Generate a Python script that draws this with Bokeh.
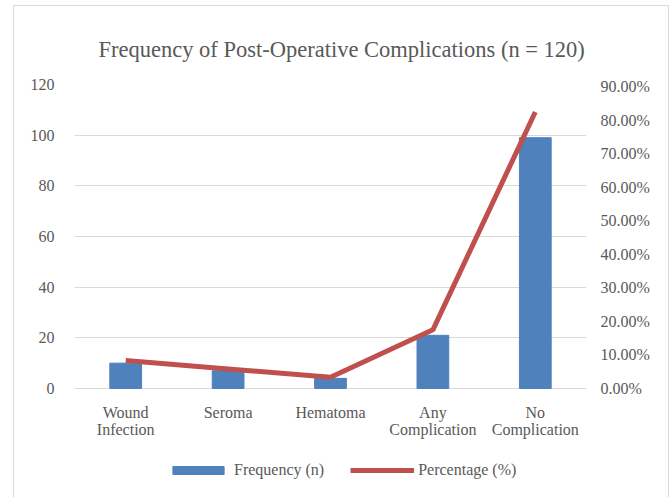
from bokeh.plotting import figure
from bokeh.models import (LinearAxis, Range1d, NumeralTickFormatter, Legend,
                          LegendItem, FixedTicker, Title)
from bokeh.core.properties import value
from bokeh.embed import file_html
from bokeh.resources import INLINE

categories = ["Wound\nInfection", "Seroma", "Hematoma", "Any\nComplication", "No\nComplication"]
frequency = [10, 7, 4, 21, 99]
percentage = [0.0833, 0.0583, 0.0333, 0.175, 0.825]
freq_ticks = [0, 20, 40, 60, 80, 100, 120]
pct_ticks = [0.0, 0.1, 0.2, 0.3, 0.4, 0.5, 0.6, 0.7, 0.8, 0.9]

FONT = "Liberation Serif"
GREY = "#595959"

xpos = list(range(len(categories)))

# frame spans 304 px for 0..120; extra space below holds category labels and legend
FRAME_H = 409
Y_MAX = 120
PCT_MAX = 0.907
y_min = Y_MAX - FRAME_H * Y_MAX / 304
pct_min = y_min * PCT_MAX / Y_MAX

p = figure(x_range=Range1d(-0.5, len(categories) - 0.5), y_range=Range1d(y_min, Y_MAX),
           width=656, height=492, output_backend="svg", toolbar_location=None,
           min_border_left=60, min_border_right=84, min_border_top=78, min_border_bottom=5)
p.margin = (5, 0, 0, 13)
p.styles = {"border": "1px solid #d9d9d9", "border-bottom": "none"}
p.outline_line_color = None
p.background_fill_color = "white"
p.border_fill_color = "white"

p.add_layout(Title(text="Frequency of Post-Operative Complications (n = 120)", align="left",
                   text_font=FONT, text_font_size="22.5px", text_color=GREY,
                   text_font_style="normal", standoff=46, offset=24), "above")

p.extra_y_ranges = {"pct": Range1d(pct_min, PCT_MAX)}

bars = p.vbar(x=xpos, top=frequency, width=0.31, color="#4f81bd")
line = p.line(x=xpos, y=percentage, y_range_name="pct", line_color="#c0504d", line_width=5)

# category labels below the zero line
p.text(x=xpos, y=[-6.0] * len(xpos), text=categories, text_align="center",
       text_baseline="top", text_font=value(FONT),
       text_font_size="16px", text_color=GREY, text_line_height=1.0)

p.xgrid.grid_line_color = None
p.ygrid.grid_line_color = "#d9d9d9"
p.ygrid.grid_line_width = 1
p.yaxis.ticker = FixedTicker(ticks=freq_ticks)
p.xaxis.visible = False

def style(ax):
    ax.axis_line_color = None
    ax.major_tick_line_color = None
    ax.minor_tick_line_color = None
    ax.major_label_text_font = FONT
    ax.major_label_text_font_size = "16px"
    ax.major_label_text_color = GREY

for ax in p.yaxis:
    style(ax)
p.yaxis.major_label_standoff = 14

raxis = LinearAxis(y_range_name="pct", ticker=FixedTicker(ticks=pct_ticks),
                   formatter=NumeralTickFormatter(format="0.00%"))
style(raxis)
raxis.major_label_standoff = 8
p.add_layout(raxis, "right")

legend = Legend(items=[LegendItem(label="Frequency (n)", renderers=[bars]),
                       LegendItem(label="Percentage (%)", renderers=[line])],
                orientation="horizontal", location=(92, 14),
                glyph_width=64, glyph_height=10, label_text_font=FONT,
                label_text_font_size="16px", label_text_color=GREY,
                spacing=26, border_line_color=None, background_fill_alpha=0,
                label_standoff=4, padding=0, margin=0)
p.add_layout(legend, "center")

open("out.html", "w").write(file_html(p, INLINE))
